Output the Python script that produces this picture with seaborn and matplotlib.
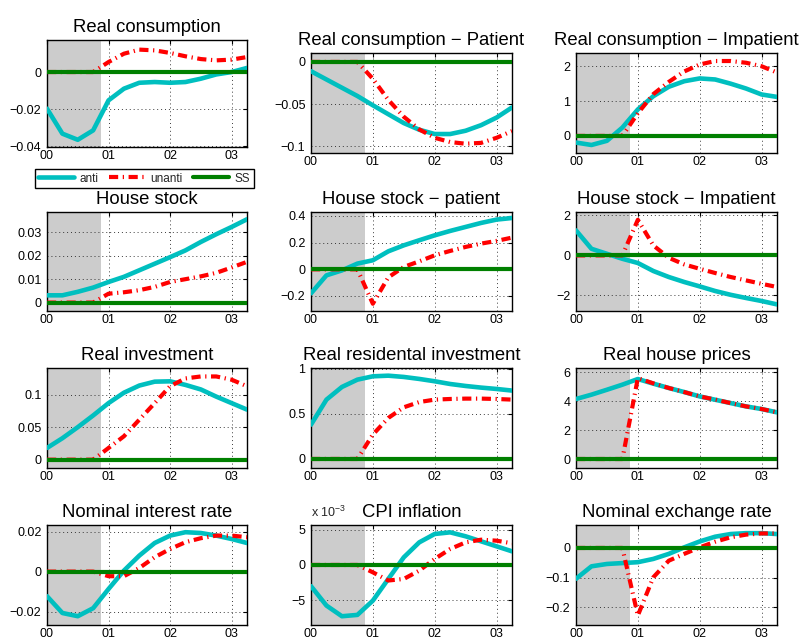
# Impulse responses: anticipated vs unanticipated shock, 4x3 panel grid
import matplotlib
matplotlib.use('Agg')
import matplotlib.pyplot as plt
from matplotlib.ticker import FixedLocator, FuncFormatter
import seaborn as sns

# quarterly horizon, 2000Q1 .. 2003Q2
quarters = [0.0, 0.25, 0.5, 0.75, 1.0, 1.25, 1.5, 1.75, 2.0, 2.25, 2.5, 2.75, 3.0, 3.25]
year_ticks = [0, 1, 2, 3]
year_labels = ['00', '01', '02', '03']
shade_end = 0.875  # end of anticipation window

titles = ['Real consumption', 'Real consumption \u2212 Patient', 'Real consumption \u2212 Impatient',
          'House stock', 'House stock \u2212 patient', 'House stock \u2212 Impatient',
          'Real investment', 'Real residental investment', 'Real house prices',
          'Nominal interest rate', 'CPI inflation', 'Nominal exchange rate']

# anticipated shock
anti_cons = [-0.0198, -0.0333, -0.0366, -0.0315, -0.0153, -0.009, -0.0058, -0.0054, -0.0058, -0.0054, -0.0036, -0.0013, 0.0, 0.0022]
anti_cons_pat = [-0.011, -0.0208, -0.0306, -0.0404, -0.0514, -0.062, -0.0725, -0.0804, -0.0855, -0.0855, -0.0816, -0.075, -0.066, -0.054]
anti_cons_imp = [-0.19, -0.26, -0.14, 0.24, 0.76, 1.14, 1.41, 1.57, 1.65, 1.62, 1.5, 1.36, 1.19, 1.12]
anti_house = [0.0031, 0.0031, 0.0046, 0.0064, 0.0088, 0.011, 0.0138, 0.0166, 0.0194, 0.0223, 0.0259, 0.0292, 0.0323, 0.0356]
anti_house_pat = [-0.18, -0.045, -0.008, 0.043, 0.068, 0.135, 0.18, 0.218, 0.255, 0.288, 0.318, 0.348, 0.373, 0.385]
anti_house_imp = [1.25, 0.33, 0.08, -0.17, -0.38, -0.78, -1.08, -1.33, -1.55, -1.78, -1.97, -2.13, -2.28, -2.45]
anti_inv = [0.018, 0.033, 0.05, 0.068, 0.087, 0.103, 0.114, 0.12, 0.1205, 0.115, 0.108, 0.097, 0.087, 0.077]
anti_resinv = [0.38, 0.657, 0.797, 0.878, 0.915, 0.922, 0.908, 0.886, 0.86, 0.83, 0.808, 0.79, 0.775, 0.757]
anti_hprice = [4.14, 4.44, 4.78, 5.13, 5.52, 5.2, 4.9, 4.62, 4.32, 4.09, 3.86, 3.63, 3.45, 3.22]
anti_rate = [-0.0123, -0.0207, -0.0223, -0.0183, -0.0087, 0.0005, 0.008, 0.0143, 0.018, 0.0197, 0.0193, 0.018, 0.0163, 0.0143]
anti_cpi = [-3.0, -5.75, -7.26, -7.07, -5.05, -1.98, 1.08, 3.2, 4.39, 4.62, 4.06, 3.35, 2.64, 1.93]  # x 1e-3
anti_fx = [-0.104, -0.062, -0.054, -0.051, -0.048, -0.037, -0.02, 0.002, 0.022, 0.038, 0.047, 0.05, 0.05, 0.047]

# unanticipated shock
unanti_cons = [0, 0, 0, 0, 0.0054, 0.0099, 0.0121, 0.0117, 0.0103, 0.0085, 0.007, 0.0063, 0.0067, 0.0081]
unanti_cons_pat = [0, 0, 0, 0, -0.02, -0.045, -0.065, -0.08, -0.09, -0.095, -0.097, -0.096, -0.09, -0.082]
unanti_cons_imp = [0, 0, 0, 0, 0.65, 1.2, 1.55, 1.85, 2.05, 2.15, 2.15, 2.1, 2.0, 1.82]
unanti_house = [0, 0, 0, 0, 0.0038, 0.0044, 0.0053, 0.0067, 0.0088, 0.01, 0.0112, 0.0127, 0.015, 0.0174]
unanti_house_pat = [0, 0, 0, 0, -0.258, -0.06, 0.018, 0.06, 0.105, 0.138, 0.168, 0.193, 0.213, 0.238]
unanti_house_imp = [0, 0, 0, 0, 1.78, 0.5, -0.12, -0.45, -0.67, -0.88, -1.08, -1.25, -1.42, -1.58]
unanti_inv = [0, 0, 0, 0, 0.018, 0.036, 0.0615, 0.087, 0.113, 0.125, 0.128, 0.128, 0.123, 0.113]
unanti_resinv = [0, 0, 0, 0, 0.27, 0.454, 0.572, 0.63, 0.657, 0.664, 0.668, 0.668, 0.664, 0.657]
unanti_hprice = [0, 0, 0, 0, 5.58, 5.22, 4.9, 4.62, 4.32, 4.1, 3.86, 3.63, 3.45, 3.22]
unanti_rate = [0, 0, 0, 0, -0.0023, -0.0023, 0.0018, 0.0072, 0.0113, 0.0147, 0.0167, 0.018, 0.018, 0.0172]
unanti_cpi = [0, 0, 0, 0, -1.04, -2.2, -1.98, -0.8, 0.85, 2.26, 3.2, 3.58, 3.44, 3.07]  # x 1e-3
unanti_fx = [0, 0, 0, 0, -0.228, -0.099, -0.043, -0.02, 0.002, 0.021, 0.036, 0.045, 0.049, 0.049]

steady_state = [0] * len(quarters)

anti_all = [anti_cons, anti_cons_pat, anti_cons_imp, anti_house, anti_house_pat, anti_house_imp,
            anti_inv, anti_resinv, anti_hprice, anti_rate, anti_cpi, anti_fx]
unanti_all = [unanti_cons, unanti_cons_pat, unanti_cons_imp, unanti_house, unanti_house_pat, unanti_house_imp,
              unanti_inv, unanti_resinv, unanti_hprice, unanti_rate, unanti_cpi, unanti_fx]

yticks_all = [[-0.04, -0.02, 0], [-0.1, -0.05, 0], [0, 1, 2],
              [0, 0.01, 0.02, 0.03], [-0.2, 0, 0.2, 0.4], [-2, 0, 2],
              [0, 0.05, 0.1], [0, 0.5, 1], [0, 2, 4, 6],
              [-0.02, 0, 0.02], [-5, 0, 5], [-0.2, -0.1, 0]]
ylims_all = [(-0.0405, 0.0173), (-0.108, 0.0106), (-0.49, 2.38),
             (-0.0036, 0.0387), (-0.3125, 0.43), (-2.78, 2.17),
             (-0.0128, 0.141), (-0.1, 1.007), (-0.62, 6.28),
             (-0.0267, 0.0233), (-8.5, 5.66), (-0.26, 0.0775)]

# axes rectangles in pixels (left, top, right, bottom) on an 801x641 canvas
W, H = 801, 641
col_x = [(47, 247), (311, 512), (576, 777)]
row_y = [(53, 153), (212, 311), (368, 468), (525, 625)]

sns.set_theme(style='white')
plt.rcParams['font.family'] = ['Liberation Sans', 'DejaVu Sans']
plt.rcParams['mathtext.fontset'] = 'custom'
plt.rcParams['mathtext.rm'] = 'Liberation Sans'
plt.rcParams['mathtext.it'] = 'Liberation Sans'

c_anti = (0.0, 0.75, 0.75)
c_unanti = (1.0, 0.0, 0.0)
c_ss = (0.0, 0.5, 0.0)

fig = plt.figure(figsize=(W / 100, H / 100), dpi=100)
fmt = FuncFormatter(lambda v, p: ('%g' % v).replace('-', '\u2212'))

axes = []
for i in range(12):
    r, c = divmod(i, 3)
    x0, x1 = col_x[c]
    y0, y1 = row_y[r]
    if i == 0:
        y0, y1 = 40, 147  # first panel sits a little higher (legend below it)
    ax = fig.add_axes([x0 / W, 1 - y1 / H, (x1 - x0) / W, (y1 - y0) / H])
    axes.append(ax)

    ax.axvspan(0, shade_end, color='#cccccc', lw=0, zorder=1)
    sns.lineplot(x=quarters, y=anti_all[i], ax=ax, color=c_anti, lw=3.3, zorder=3, label='anti')
    sns.lineplot(x=quarters, y=unanti_all[i], ax=ax, color=c_unanti, lw=3.0, zorder=4,
                 linestyle=(0, (2.2, 1.1, 0.3, 1.1)), label='unanti')
    sns.lineplot(x=quarters, y=steady_state, ax=ax, color=c_ss, lw=3.0, zorder=5, label='SS')
    ax.get_legend().remove()

    ax.set_xlim(0, 3.25)
    ax.set_ylim(*ylims_all[i])
    ax.xaxis.set_major_locator(FixedLocator(year_ticks))
    ax.set_xticklabels(year_labels)
    ax.yaxis.set_major_locator(FixedLocator(yticks_all[i]))
    ax.yaxis.set_major_formatter(fmt)
    ax.set_axisbelow('line')
    ax.grid(True, color='#222222', lw=0.6, ls=(0, (1.2, 3.5)))
    ax.tick_params(direction='in', length=3, width=0.8, top=True, right=True,
                   labelsize=9, pad=4, colors='black')
    ax.tick_params(axis='x', pad=2.5)
    for s in ax.spines.values():
        s.set_color('black')
        s.set_linewidth(1.0)
    ax.set_title(titles[i], fontsize=13.3, pad=6, color='black')

# CPI inflation is shown in units of 1e-3
axes[10].text(0, 1.05, r'x 10$^{-3}$', transform=axes[10].transAxes, fontsize=9,
              ha='left', va='bottom')

handles = axes[0].get_lines()[:3]
leg = fig.legend(handles, ['anti', 'unanti', 'SS'], loc='center', bbox_to_anchor=(0.18, 0.7215),
                 ncol=3, fontsize=8.5, frameon=True, fancybox=False, edgecolor='black',
                 framealpha=1, handlelength=3.0, columnspacing=0.9, handletextpad=0.5,
                 borderpad=0.3, borderaxespad=0)
leg.get_frame().set_linewidth(1.0)

fig.savefig('out.png', dpi=100)
